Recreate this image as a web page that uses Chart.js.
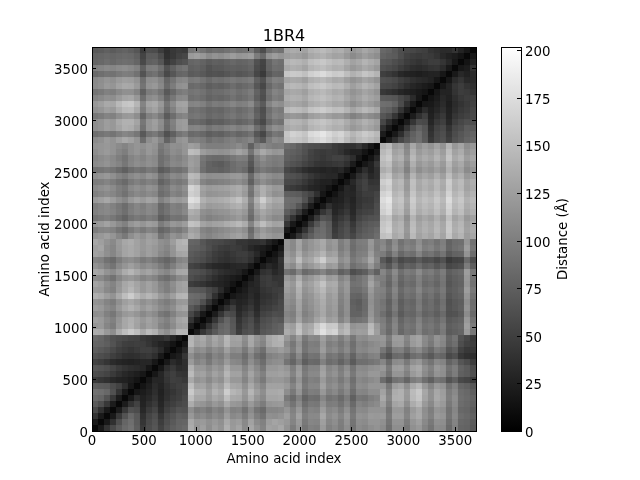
<!DOCTYPE html>
<html>
<head>
<meta charset="utf-8">
<title>1BR4</title>
<script src="https://cdn.jsdelivr.net/npm/chart.js@4"></script>
<style>
    body { margin: 0; background: #fff; }
    canvas { position: absolute; top: 0; }
    #mapCanvas { left: 0; }
    #barCanvas { left: 490px; }
</style>
</head>
<body>
<canvas id="mapCanvas" width="490" height="480"></canvas>
<canvas id="barCanvas" width="150" height="480"></canvas>
<script>
// Ejes y colorbar
const xTicks = [0, 500, 1000, 1500, 2000, 2500, 3000, 3500];
const yTicks = [0, 500, 1000, 1500, 2000, 2500, 3000, 3500];
const barTicks = [0, 25, 50, 75, 100, 125, 150, 175, 200];
const residueMax = 3700;
const distanceMax = 201.6;
const binsPerChain = 16;
const chainCount = 4;

// Bloques diagonales (triangulo superior, la matriz es simetrica), en Angstrom
const chainAA = [
    [6,20,40,58,72,84,90,74,46,60,68,52,66,74,80,84],
    [6,20,38,62,80,88,72,42,58,66,48,62,70,78,80],
    [6,20,44,66,82,70,38,54,62,42,58,66,74,72],
    [6,22,44,64,60,32,46,54,34,50,58,66,64],
    [6,22,40,52,28,38,46,30,44,50,56,60],
    [6,20,36,26,32,40,28,38,46,50,58],
    [6,18,22,28,36,26,36,42,48,54],
    [6,16,24,34,28,38,46,50,52],
    [6,18,30,30,42,50,48,44],
    [6,18,30,44,50,42,40],
    [6,18,36,44,34,36],
    [6,20,34,28,36],
    [6,18,24,42],
    [6,16,30],
    [6,18],
    [6]
];
const chainBB = [
    [6,22,42,56,70,82,86,72,48,62,66,54,68,72,76,80],
    [6,20,40,60,78,84,70,44,56,64,50,64,68,74,78],
    [6,20,42,64,80,68,40,52,60,44,60,64,70,68],
    [6,22,42,62,58,34,44,52,36,52,56,62,60],
    [6,22,38,50,30,36,44,32,46,48,54,58],
    [6,20,34,28,30,38,30,40,44,48,56],
    [6,18,24,26,34,28,38,40,46,52],
    [6,16,22,32,30,40,44,48,50],
    [6,18,28,32,44,48,46,42],
    [6,18,32,46,48,40,42],
    [6,20,38,42,32,38],
    [6,22,32,26,38],
    [6,18,22,40],
    [6,16,28],
    [6,18],
    [6]
];
const chainCC = [
    [6,20,42,60,74,86,88,76,50,58,66,56,70,76,78,86],
    [6,20,40,64,82,86,74,46,56,64,50,66,72,76,82],
    [6,20,46,68,84,72,42,52,60,44,62,68,72,74],
    [6,22,46,66,62,36,44,52,36,54,60,64,66],
    [6,22,42,54,30,36,44,32,48,52,54,62],
    [6,20,38,28,30,38,30,42,48,48,60],
    [6,18,24,26,34,28,40,44,46,56],
    [6,16,26,32,30,42,48,48,54],
    [6,18,32,28,44,52,46,46],
    [6,18,32,46,52,40,42],
    [6,20,38,46,32,38],
    [6,22,36,26,38],
    [6,18,26,44],
    [6,16,32],
    [6,18],
    [6]
];
const chainDD = [
    [6,22,38,56,68,80,88,72,44,58,64,50,64,70,78,82],
    [6,20,36,60,76,86,70,40,56,62,46,60,68,74,78],
    [6,20,42,64,78,68,36,52,58,40,56,62,72,70],
    [6,22,42,60,58,30,44,50,32,48,56,62,62],
    [6,22,38,50,26,36,44,28,42,48,52,58],
    [6,20,34,24,30,38,26,36,44,48,56],
    [6,18,20,26,34,24,34,40,46,52],
    [6,16,22,32,26,36,44,48,50],
    [6,18,28,28,40,48,46,42],
    [6,18,28,42,48,40,38],
    [6,18,34,42,32,34],
    [6,20,32,26,34],
    [6,18,22,40],
    [6,16,28],
    [6,18],
    [6]
];

// Bloques entre cadenas: fila = bin de la primera cadena, columna = bin de la segunda
const chainAB = [
    [136,118,126,112,124,116,138,122,130,110,132,116,104,128,126,132],
    [134,120,122,114,120,114,134,120,124,108,128,110,102,124,130,126],
    [120,106,110,102,110,104,124,108,112,98,116,100,90,114,112,116],
    [112,98,102,94,104,98,116,102,104,90,110,92,84,106,106,108],
    [136,120,118,110,120,114,134,120,118,106,122,108,98,118,120,122],
    [150,132,132,120,132,126,150,134,132,116,136,118,108,130,130,132],
    [160,140,138,124,140,132,162,144,138,120,144,126,112,134,134,136],
    [150,128,130,118,132,124,148,132,130,114,134,118,106,128,128,128],
    [134,116,120,108,120,114,136,120,120,104,124,108,96,118,120,120],
    [148,126,128,116,128,120,144,128,128,110,130,114,102,126,126,128],
    [140,120,120,110,120,114,136,120,120,104,122,108,94,120,120,124],
    [122,104,110,96,110,104,122,108,106,92,112,98,86,108,112,114],
    [112,98,102,90,104,98,114,100,100,86,106,88,80,102,106,110],
    [126,110,114,102,112,106,126,110,112,96,116,100,88,116,118,124],
    [144,126,130,116,128,120,142,126,126,108,132,114,104,130,138,140],
    [142,128,134,118,132,122,144,128,130,112,134,118,108,132,138,144]
];
const chainAC = [
    [116,98,118,92,102,100,122,102,108,98,112,90,110,106,112,116],
    [120,104,122,96,106,104,126,106,112,100,116,92,112,110,118,118],
    [126,106,128,100,108,108,132,110,116,104,120,96,116,114,122,120],
    [118,102,120,94,104,102,124,106,110,98,114,92,110,108,116,116],
    [106,92,110,86,96,94,114,98,100,90,104,84,104,100,106,110],
    [96,84,102,78,88,86,106,90,94,84,98,76,94,92,100,104],
    [112,96,118,90,100,98,120,102,108,96,108,86,106,104,112,112],
    [122,104,124,96,106,106,128,108,114,102,114,92,112,110,118,118],
    [114,96,118,92,102,100,122,104,108,96,108,88,108,104,110,114],
    [124,104,126,98,108,108,130,110,116,102,118,96,114,112,120,120],
    [118,100,122,94,104,104,126,106,112,98,112,92,110,108,114,116],
    [92,80,98,74,84,82,102,86,90,78,90,72,88,88,92,96],
    [102,86,108,82,92,90,112,92,96,86,98,78,98,94,102,104],
    [116,98,120,92,102,102,124,104,110,98,110,90,108,106,112,114],
    [110,94,116,90,100,98,120,100,104,94,106,88,106,102,108,112],
    [120,104,124,96,108,106,126,108,114,100,114,94,112,110,118,118]
];
const chainAD = [
    [110,88,112,112,94,114,120,104,92,110,108,84,102,80,78,70],
    [114,92,116,116,98,118,126,108,96,114,112,88,104,82,80,72],
    [122,96,124,124,104,126,134,114,102,122,118,92,108,86,82,76],
    [116,92,120,120,102,122,132,112,100,118,114,90,106,82,80,72],
    [126,100,130,134,112,136,146,122,108,128,122,96,110,86,82,76],
    [134,106,138,140,120,146,156,130,114,134,126,100,112,88,84,78],
    [128,102,136,140,122,148,158,132,114,132,124,98,108,86,82,74],
    [118,94,124,130,112,134,144,120,104,122,116,90,102,80,76,68],
    [86,70,90,94,80,98,104,88,76,92,88,66,76,58,54,46],
    [112,90,118,118,102,122,130,110,98,116,112,86,98,76,72,62],
    [120,96,124,126,108,128,134,114,102,120,114,90,100,78,72,60],
    [106,84,110,112,96,114,120,102,92,108,104,78,88,68,60,48],
    [78,64,84,86,72,86,92,80,70,84,80,58,64,44,38,36],
    [94,76,100,102,86,102,110,94,82,98,92,68,76,52,44,44],
    [116,92,120,122,102,122,128,108,96,114,106,80,88,62,52,48],
    [120,98,124,124,106,124,130,110,100,116,108,82,92,66,56,46]
];
const chainBC = [
    [136,128,154,130,138,162,178,164,168,138,148,122,126,124,150,126],
    [130,124,150,128,134,156,172,158,160,132,144,116,120,120,146,122],
    [110,104,130,108,114,130,140,124,128,104,118,88,90,94,124,104],
    [104,100,124,102,110,122,132,116,122,98,112,78,78,86,118,100],
    [110,104,128,106,114,124,134,118,124,100,114,78,74,84,116,100],
    [114,108,130,108,116,126,136,120,126,102,114,76,72,84,114,100],
    [118,112,136,112,118,130,140,122,128,104,116,80,78,88,116,102],
    [124,116,140,116,124,136,146,128,132,108,120,86,86,94,122,104],
    [128,120,146,122,128,140,154,134,136,112,122,90,92,100,130,110],
    [120,112,136,112,120,130,138,122,126,104,114,84,90,98,122,102],
    [90,84,104,84,90,96,104,90,94,76,84,62,68,74,92,76],
    [118,110,134,112,120,130,140,122,126,102,112,88,96,100,120,100],
    [128,122,150,126,132,148,164,138,138,112,120,96,104,112,134,108],
    [122,114,136,116,124,132,142,124,128,104,114,90,100,102,124,102],
    [116,108,128,108,118,124,132,114,120,98,108,86,96,98,118,98],
    [118,108,130,110,118,126,134,116,122,100,110,88,98,100,120,100]
];
const chainBD = [
    [100,84,104,82,92,88,104,88,92,84,96,72,76,80,122,94],
    [102,86,106,84,94,90,106,90,94,86,98,74,78,82,126,98],
    [98,82,102,80,90,86,102,86,90,82,92,70,74,78,120,92],
    [88,74,92,72,82,80,92,78,82,74,84,64,66,72,110,84],
    [94,78,98,76,86,82,98,82,86,78,90,66,70,76,116,88],
    [92,76,96,74,84,80,96,80,86,76,88,64,70,74,112,86],
    [98,82,102,80,90,86,100,84,90,80,92,68,74,78,118,90],
    [102,86,106,84,94,90,106,90,94,86,96,72,76,82,124,96],
    [96,80,100,78,88,84,100,84,88,80,92,68,74,78,118,90],
    [100,84,104,82,92,88,102,88,92,84,94,70,76,80,120,92],
    [106,90,110,88,98,94,110,94,98,88,98,74,80,84,124,96],
    [82,68,88,68,78,74,86,74,78,68,76,56,60,64,98,74],
    [70,56,74,58,64,62,72,62,64,56,64,46,52,54,84,62],
    [98,82,102,82,92,88,104,88,92,82,92,70,78,80,116,86],
    [110,94,114,94,104,100,116,100,104,94,102,80,88,92,124,94],
    [106,90,110,90,100,96,112,96,100,90,100,78,86,88,118,90]
];
const chainCD = [
    [152,156,134,140,116,146,128,136,130,142,130,156,134,142,124,132],
    [158,166,138,144,120,150,132,140,134,146,134,160,138,146,128,136],
    [156,162,136,142,118,148,130,138,132,144,132,158,136,144,126,134],
    [150,156,130,136,112,142,124,132,126,138,126,152,130,138,120,128],
    [164,172,142,148,124,154,136,144,138,150,138,164,142,150,132,140],
    [168,176,146,152,128,158,140,148,142,154,142,168,146,154,136,144],
    [174,182,150,156,132,162,144,152,146,158,146,174,150,158,140,148],
    [166,172,144,150,126,156,138,146,140,152,140,166,144,152,134,142],
    [156,164,138,144,120,150,132,140,134,146,134,160,138,146,128,136],
    [162,168,140,146,122,152,134,142,136,148,136,162,140,148,130,138],
    [148,156,130,136,112,142,124,132,126,138,126,150,130,138,120,128],
    [136,144,120,126,102,130,112,122,116,126,116,140,120,128,110,118],
    [146,152,126,132,108,138,120,128,122,134,122,146,126,134,116,124],
    [152,160,134,140,116,146,128,136,130,142,130,156,134,142,124,132],
    [146,154,128,134,110,140,122,130,124,136,124,150,128,136,118,126],
    [138,146,120,126,104,132,114,124,116,128,116,142,120,130,112,120]
];

const diagonalBlocks = [chainAA, chainBB, chainCC, chainDD];
const offDiagonalBlocks = [
    [0, 1, chainAB], [0, 2, chainAC], [0, 3, chainAD],
    [1, 2, chainBC], [1, 3, chainBD], [2, 3, chainCD]
];

function grayFor(v) {
    const g = Math.round(Math.min(v / distanceMax, 1) * 255);
    return `rgb(${g},${g},${g})`;
}

// Pasar los bloques a una lista plana de celdas
function buildCells() {
    const binWidth = residueMax / (chainCount * binsPerChain);
    const cells = [];
    const push = (col, row, v) => cells.push({ x: (col + 0.5) * binWidth, y: (row + 0.5) * binWidth, v });

    diagonalBlocks.forEach((block, chain) => {
        const base = chain * binsPerChain;
        block.forEach((values, r) => {
            values.forEach((v, k) => {
                const c = r + k;
                push(base + c, base + r, v);
                if (c !== r) push(base + r, base + c, v);
            });
        });
    });

    offDiagonalBlocks.forEach(([low, high, block]) => {
        block.forEach((values, r) => {
            values.forEach((v, c) => {
                push(high * binsPerChain + c, low * binsPerChain + r, v);
                push(low * binsPerChain + r, high * binsPerChain + c, v);
            });
        });
    });
    return cells;
}

Chart.defaults.font.family = '"DejaVu Sans"';
Chart.defaults.font.size = 13.33;
Chart.defaults.color = '#000';
Chart.defaults.animation = false;

// Marcas hacia dentro y marco negro, como en matplotlib
const frameTicks = {
    id: 'frameTicks',
    afterDatasetsDraw(chart, args, opts) {
        const { ctx, chartArea: a } = chart;
        ctx.save();
        ctx.strokeStyle = '#000';
        ctx.lineWidth = 1;
        ctx.beginPath();
        if (opts.bothAxes) {
            xTicks.forEach(t => {
                const px = Math.round(chart.scales.x.getPixelForValue(t)) + 0.5;
                ctx.moveTo(px, a.bottom); ctx.lineTo(px, a.bottom - 4);
                ctx.moveTo(px, a.top); ctx.lineTo(px, a.top + 4);
            });
            yTicks.forEach(t => {
                const py = Math.round(chart.scales.y.getPixelForValue(t)) + 0.5;
                ctx.moveTo(a.left, py); ctx.lineTo(a.left + 4, py);
                ctx.moveTo(a.right, py); ctx.lineTo(a.right - 4, py);
            });
        } else {
            barTicks.forEach(t => {
                const py = Math.round(chart.scales.y.getPixelForValue(t)) + 0.5;
                ctx.moveTo(a.right, py); ctx.lineTo(a.right - 4, py);
            });
        }
        ctx.stroke();
        ctx.strokeRect(a.left + 0.5, a.top + 0.5, a.right - a.left, a.bottom - a.top);
        ctx.restore();
    }
};

// Etiquetas del eje Y centradas sobre la marca (chart.js las deja un poco altas)
const yLabels = {
    id: 'yLabels',
    afterDraw(chart, args, opts) {
        const { ctx, chartArea: a } = chart;
        ctx.save();
        ctx.fillStyle = '#000';
        ctx.font = '13.33px "DejaVu Sans"';
        ctx.textBaseline = 'alphabetic';
        ctx.textAlign = opts.side === 'right' ? 'left' : 'right';
        const labelX = opts.side === 'right' ? a.right + 4 : a.left - 4;
        opts.values.forEach(t => {
            ctx.fillText(String(t), labelX, chart.scales.y.getPixelForValue(t) + 6);
        });
        ctx.restore();
    }
};

const mapChart = new Chart(document.getElementById('mapCanvas'), {
    type: 'scatter',
    data: {
        datasets: [{
            data: buildCells(),
            pointStyle: 'rect',
            pointRadius: 4.3,
            pointBorderWidth: 0,
            pointBackgroundColor: ctx => grayFor(ctx.raw.v)
        }]
    },
    options: {
        responsive: false,
        layout: { padding: { right: 14 } },
        plugins: {
            legend: { display: false },
            tooltip: { enabled: false },
            frameTicks: { bothAxes: true },
            yLabels: { side: 'left', values: yTicks },
            title: {
                display: true,
                text: '1BR4',
                fullSize: false,
                color: '#000',
                font: { size: 16, weight: 'normal', lineHeight: '18px' },
                padding: { top: 28, bottom: 1 }
            }
        },
        scales: {
            x: {
                type: 'linear',
                min: 0,
                max: residueMax,
                grid: { display: false, drawTicks: false },
                border: { display: false },
                afterBuildTicks: s => { s.ticks = xTicks.map(value => ({ value })); },
                afterFit: s => { s.height = 49; },
                ticks: { padding: 3, maxRotation: 0, autoSkip: false, callback: v => String(v) },
                title: { display: true, text: 'Amino acid index', padding: { top: 0, bottom: 12 } }
            },
            y: {
                type: 'linear',
                min: 0,
                max: residueMax,
                grid: { display: false, drawTicks: false },
                border: { display: false },
                afterBuildTicks: s => { s.ticks = yTicks.map(value => ({ value })); },
                afterFit: s => { s.width = 92; },
                ticks: { display: false },
                title: { display: true, text: 'Amino acid index', padding: { top: 38, bottom: 0 } }
            }
        }
    },
    plugins: [frameTicks, yLabels]
});

// Etiqueta de la colorbar, leida de abajo arriba
const barLabel = {
    id: 'barLabel',
    afterDraw(chart) {
        const { ctx, chartArea: a } = chart;
        ctx.save();
        ctx.translate(74, (a.top + a.bottom) / 2);
        ctx.rotate(-Math.PI / 2);
        ctx.textAlign = 'center';
        ctx.textBaseline = 'middle';
        ctx.fillStyle = '#000';
        ctx.font = '13.33px "DejaVu Sans"';
        ctx.fillText('Distance (Å)', 0, 0);
        ctx.restore();
    }
};

const colorBar = new Chart(document.getElementById('barCanvas'), {
    type: 'bar',
    data: {
        labels: ['Distance'],
        datasets: [{
            data: [[0, distanceMax]],
            barPercentage: 1,
            categoryPercentage: 1,
            backgroundColor: ctx => {
                const area = ctx.chart.chartArea;
                if (!area) return '#808080';
                const g = ctx.chart.ctx.createLinearGradient(0, area.bottom, 0, area.top);
                g.addColorStop(0, '#000');
                g.addColorStop(1, '#fff');
                return g;
            }
        }]
    },
    options: {
        responsive: false,
        layout: { padding: { left: 11, top: 47, bottom: 49 } },
        plugins: {
            legend: { display: false },
            tooltip: { enabled: false },
            frameTicks: { bothAxes: false },
            yLabels: { side: 'right', values: barTicks }
        },
        scales: {
            x: { display: false },
            y: {
                position: 'right',
                min: 0,
                max: distanceMax,
                grid: { display: false, drawTicks: false },
                border: { display: false },
                afterBuildTicks: s => { s.ticks = barTicks.map(value => ({ value })); },
                afterFit: s => { s.width = 119; },
                ticks: { display: false }
            }
        }
    },
    plugins: [frameTicks, yLabels, barLabel]
});
</script>
</body>
</html>
